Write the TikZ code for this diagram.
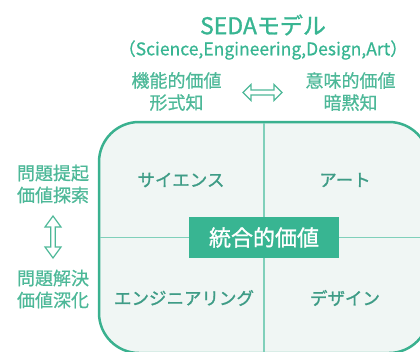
\documentclass[tikz,border=0pt]{standalone}
\usepackage{fontspec}
\setmainfont{Noto Sans CJK JP}[RawFeature={embolden=0.7}]
\newfontfamily\qfont{Noto Sans CJK JP}[RawFeature={embolden=1.2}]
\definecolor{sgreen}{HTML}{38B592}
\definecolor{lgreen}{HTML}{4DB898}
\definecolor{qgreen}{HTML}{3E9C86}
\definecolor{divline}{HTML}{80D0BA}
\definecolor{boxfill}{HTML}{F0F6F4}
\definecolor{boxline}{HTML}{3AB18F}
\tikzset{
  lbl/.style={text=lgreen, font=\fontsize{18}{22}\selectfont, align=center, inner sep=0pt},
  qlbl/.style={text=qgreen, font=\qfont\fontsize{17.5}{21}\selectfont, inner sep=0pt},
  dblarrow/.style={draw=lgreen, line width=1.2pt, fill=white, line join=miter},
}
\begin{document}
\begin{tikzpicture}[x=1pt,y=-1pt]
\useasboundingbox (0,0) rectangle (420,351);
\begin{scope}
\clip (0,0) rectangle (420,351);
\draw[boxline, fill=boxfill, line width=2.5pt, rounded corners=40pt] (99,122) rectangle (429,353);
\coordinate (vt) at (264,123);
\coordinate (vb) at (264,352);
\coordinate (hl) at (100,237.5);
\coordinate (hr) at (428,237.5);
\draw[divline, line width=1.6pt] (vt) -- (vb);
\draw[divline, line width=1.6pt] (hl) -- (hr);
\end{scope}
\node[fill=sgreen, minimum width=150pt, minimum height=41pt, inner sep=0pt, text=white, font=\qfont\fontsize{22}{26}\selectfont] (center) at (264,237.5) {統合的価値};

\node[text=sgreen, font=\qfont\fontsize{23}{26}\selectfont, inner sep=0pt] (title) at (263,25) {SEDAモデル};
\node[text=sgreen, font=\fontsize{17.5}{20}\selectfont, inner sep=0pt] (sub) at (263,50) {（Science,Engineering,Design,Art）};

\node[lbl] (fv) at (176.5,91.5) {機能的価値\\形式知};
\node[lbl] (mv) at (350.5,91.5) {意味的価値\\暗黙知};
\node[lbl] (pt) at (53,184) {問題提起\\価値探索};
\node[lbl] (ps) at (53,289) {問題解決\\価値深化};

\node[qlbl] (sci) at (181,180) {サイエンス};
\node[qlbl] (art) at (345,180) {アート};
\node[qlbl] (eng) at (184,298) {エンジニアリング};
\node[qlbl] (des) at (345,298) {デザイン};

% horizontal double arrow
\draw[dblarrow] (243,92.5) -- (251,84.5) -- (251,90) -- (274,90) -- (274,84.5) -- (282,92.5) -- (274,100.5) -- (274,95) -- (251,95) -- (251,100.5) -- cycle;
% vertical double arrow
\draw[dblarrow] (53,216) -- (61,227) -- (55.3,227) -- (55.3,247) -- (61,247) -- (53,258) -- (45,247) -- (50.7,247) -- (50.7,227) -- (45,227) -- cycle;
\end{tikzpicture}
\end{document}
